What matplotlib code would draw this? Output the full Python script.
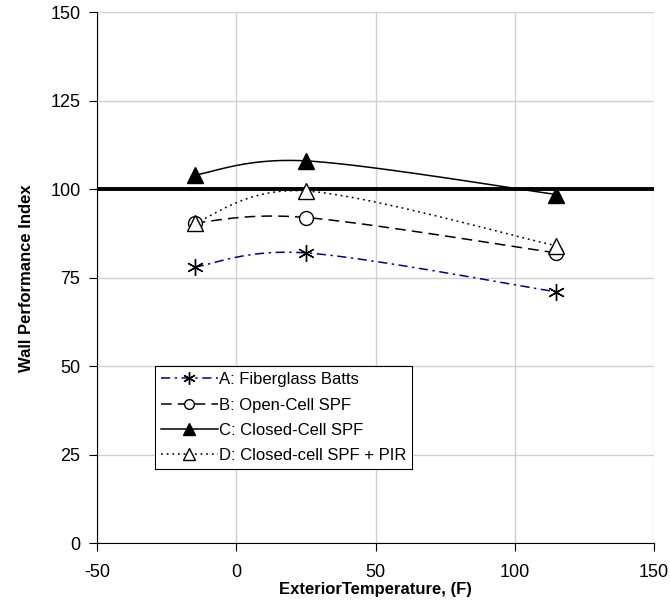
import numpy as np
import matplotlib.pyplot as plt

# data
temps = [-15, 25, 115]
fiberglass = [78, 82, 71]
open_cell = [90.5, 92, 82]
closed_cell = [104, 108, 98.5]
closed_pir = [90.5, 99.5, 84]
baseline = 100

labels = ["A: Fiberglass Batts", "B: Open-Cell SPF",
          "C: Closed-Cell SPF", "D: Closed-cell SPF + PIR"]


def smooth(x, y, n=40):
    # excel-like smoothed line (bezier through points)
    p = np.column_stack([x, y]).astype(float)
    pts = []
    for i in range(len(p) - 1):
        p0 = p[max(i - 1, 0)]
        p1 = p[i]
        p2 = p[i + 1]
        p3 = p[min(i + 2, len(p) - 1)]
        c1 = p1 + (p2 - p0) / 6
        c2 = p2 - (p3 - p1) / 6
        t = np.linspace(0, 1, n)[:, None]
        seg = ((1 - t) ** 3) * p1 + 3 * ((1 - t) ** 2) * t * c1 \
            + 3 * (1 - t) * t ** 2 * c2 + t ** 3 * p2
        pts.append(seg)
    pts = np.vstack(pts)
    return pts[:, 0], pts[:, 1]


plt.rcParams['font.family'] = ['Liberation Sans', 'DejaVu Sans']
plt.rcParams['axes.unicode_minus'] = False

fig = plt.figure(figsize=(6.7, 6.09), dpi=100)
ax = fig.add_axes([0.145, 0.108, 0.831, 0.872])

ax.axhline(baseline, color="black", lw=2.8, zorder=3)

series = [
    (fiberglass, "#000080", (0, (6, 3, 1.5, 3)), (6, 2, 0), "none", 12),
    (open_cell, "black", (0, (7, 4)), "o", "white", 10),
    (closed_cell, "black", "-", "^", "black", 11),
    (closed_pir, "black", (0, (1.2, 2.5)), "^", "white", 11),
]

handles = []
for (vals, col, ls, mk, mfc, ms), lab in zip(series, labels):
    sx, sy = smooth(temps, vals)
    ax.plot(sx, sy, color=col, ls=ls, lw=1.1, zorder=4)
    ax.plot(temps, vals, ls="none", marker=mk, ms=ms, mfc=mfc,
            mec="black", mew=1.0, zorder=5)
    h, = ax.plot([], [], color=col, ls=ls, lw=1.1, marker=mk, ms=ms - 3,
                 mfc=mfc, mec="black", mew=1.0)
    handles.append(h)

ax.set_xlim(-50, 150)
ax.set_ylim(0, 150)
ax.set_xticks(np.arange(-50, 151, 50))
ax.set_yticks(np.arange(0, 151, 25))
ax.grid(True, color="#d0d0d0", lw=1)
ax.set_axisbelow(True)
for s in ["top", "right"]:
    ax.spines[s].set_visible(False)
ax.tick_params(labelsize=13, direction="out", length=6)
ax.tick_params(axis="x", pad=9)
ax.tick_params(axis="y", pad=6)

ax.set_xlabel("ExteriorTemperature, (F)", fontsize=12, fontweight="bold",
              labelpad=1)
ax.set_ylabel("Wall Performance Index", fontsize=12, fontweight="bold",
              labelpad=12)

leg = ax.legend(handles, labels, loc="upper left",
                bbox_to_anchor=(0.104, 0.333), fontsize=12, frameon=True,
                fancybox=False, edgecolor="black", framealpha=1,
                handlelength=3.4, handletextpad=0.1, labelspacing=0.62,
                borderpad=0.35, borderaxespad=0)
leg.get_frame().set_linewidth(0.8)

fig.savefig("out.png", dpi=100)
